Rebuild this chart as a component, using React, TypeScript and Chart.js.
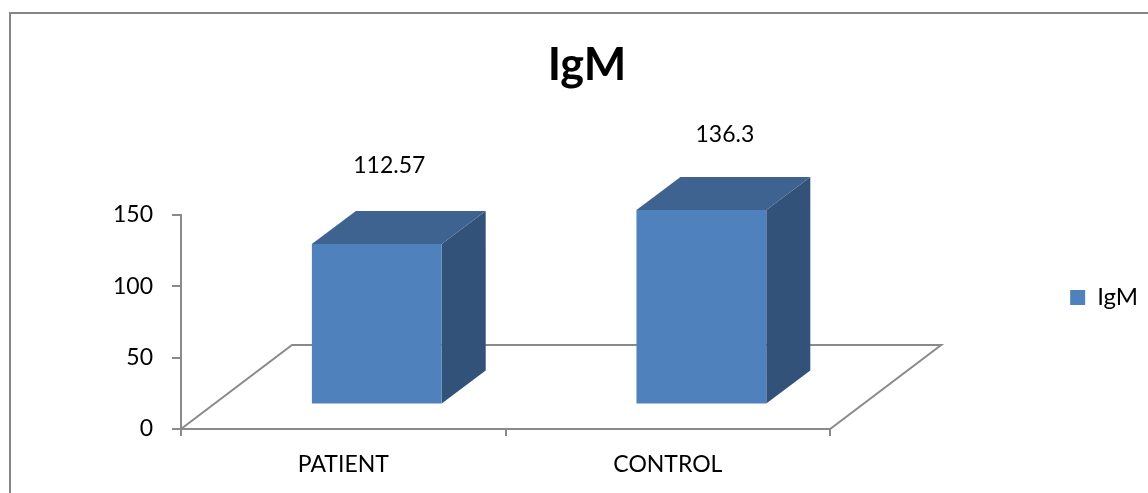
import React, { useEffect, useRef } from "react";
import { Chart, registerables } from "chart.js";

Chart.register(...registerables);

const categories = ["PATIENT", "CONTROL"];
const seriesName = "IgM";
const igmValues = [112.57, 136.3];
const yTicks = [0, 50, 100, 150];

const FONT = "Lato, 'Open Sans', sans-serif";
const AXIS_GREY = "#8a8a8a";
const FRONT = "#4f81bd";
const TOP = "#3e6390";
const SIDE = "#325279";

// Pseudo-3D geometry: bars sit partway back on a floor that recedes up and to the right.
const FRONT_SHIFT = { x: 33.5, y: -24.5 };
const BAR_DEPTH = { x: 44, y: -33 };
const FLOOR_DEPTH = { x: 111, y: -84 };
const LABEL_RISE = [103, 99.5];
const LABEL_SLIDE = [46, 57];
const LEGEND_DROP = 51;

const frame3d = {
  id: "frame3d",
  afterLayout(chart: any) {
    // Lower the legend to sit level with the middle of the bars.
    const legend = chart.legend;
    legend.top += LEGEND_DROP;
    legend.bottom += LEGEND_DROP;
  },
  beforeDraw(chart: any) {
    const { ctx } = chart;
    ctx.save();
    ctx.fillStyle = "#ffffff";
    ctx.fillRect(0, 0, chart.width, chart.height);
    ctx.strokeStyle = "#868686";
    ctx.lineWidth = 2;
    ctx.strokeRect(10, 13, chart.width + 40, chart.height + 40);
    ctx.restore();
  },
  beforeDatasetsDraw(chart: any) {
    const { ctx, chartArea: a } = chart;
    ctx.save();
    ctx.strokeStyle = AXIS_GREY;
    ctx.lineWidth = 2;
    ctx.beginPath();
    ctx.moveTo(a.left, a.bottom);
    ctx.lineTo(a.left + FLOOR_DEPTH.x, a.bottom + FLOOR_DEPTH.y);
    ctx.lineTo(a.right + FLOOR_DEPTH.x, a.bottom + FLOOR_DEPTH.y);
    ctx.lineTo(a.right, a.bottom);
    ctx.stroke();
    ctx.restore();
  },
  beforeDatasetDraw(chart: any) {
    const { ctx } = chart;
    ctx.save();
    ctx.translate(FRONT_SHIFT.x, FRONT_SHIFT.y);
    chart.getDatasetMeta(0).data.forEach((bar: any) => {
      const right = bar.x + bar.width / 2;
      const left = bar.x - bar.width / 2;
      ctx.fillStyle = SIDE;
      ctx.beginPath();
      ctx.moveTo(right, bar.y);
      ctx.lineTo(right + BAR_DEPTH.x, bar.y + BAR_DEPTH.y);
      ctx.lineTo(right + BAR_DEPTH.x, bar.base + BAR_DEPTH.y);
      ctx.lineTo(right, bar.base);
      ctx.closePath();
      ctx.fill();
      ctx.fillStyle = TOP;
      ctx.beginPath();
      ctx.moveTo(left, bar.y);
      ctx.lineTo(left + BAR_DEPTH.x, bar.y + BAR_DEPTH.y);
      ctx.lineTo(right + BAR_DEPTH.x, bar.y + BAR_DEPTH.y);
      ctx.lineTo(right, bar.y);
      ctx.closePath();
      ctx.fill();
    });
  },
  afterDatasetDraw(chart: any) {
    chart.ctx.restore();
  },
  afterDatasetsDraw(chart: any) {
    const { ctx } = chart;
    ctx.save();
    ctx.fillStyle = "#000000";
    ctx.font = `23px ${FONT}`;
    ctx.textAlign = "center";
    ctx.textBaseline = "middle";
    chart.getDatasetMeta(0).data.forEach((bar: any, i: number) => {
      ctx.fillText(String(igmValues[i]), bar.x + LABEL_SLIDE[i], bar.y - LABEL_RISE[i]);
    });
    ctx.restore();
  },
};

export default function App() {
  const ref = useRef<HTMLCanvasElement>(null);

  useEffect(() => {
    const chart = new Chart(ref.current as HTMLCanvasElement, {
      type: "bar",
      data: {
        labels: categories,
        datasets: [
          {
            label: seriesName,
            data: igmValues,
            backgroundColor: FRONT,
            barPercentage: 0.4,
            categoryPercentage: 1,
            clip: false,
          } as any,
        ],
      },
      options: {
        responsive: false,
        animation: false,
        layout: { padding: { left: 26, right: 0, top: 0, bottom: 0 } },
        plugins: {
          title: {
            display: true,
            text: seriesName,
            color: "#000000",
            font: { family: FONT, size: 45, weight: "bold" },
            padding: { top: 38, bottom: 123 },
          },
          legend: {
            position: "right",
            labels: {
              boxWidth: 15,
              boxHeight: 15,
              padding: 12,
              color: "#000000",
              font: { family: FONT, size: 24 },
            },
          },
          tooltip: { enabled: false },
        },
        scales: {
          x: {
            grid: {
              drawOnChartArea: false,
              color: AXIS_GREY,
              tickLength: 7,
              lineWidth: 2,
            },
            border: { color: AXIS_GREY, width: 2 },
            ticks: {
              color: "#000000",
              font: { family: FONT, size: 23 },
              padding: 15,
              maxRotation: 0,
            },
            afterFit(scale: any) {
              scale.height = 64;
            },
          },
          y: {
            min: 0,
            max: 150,
            afterBuildTicks(scale: any) {
              scale.ticks = yTicks.map((value) => ({ value }));
            },
            grid: {
              drawOnChartArea: false,
              color: AXIS_GREY,
              tickLength: 9,
              lineWidth: 2,
            },
            border: { color: AXIS_GREY, width: 2 },
            ticks: {
              color: "#000000",
              font: { family: FONT, size: 23 },
              padding: 19,
            },
            afterFit(scale: any) {
              scale.width = 155;
            },
          },
          // Empty axis that reserves the gap between the plot and the legend.
          gap: {
            position: "right",
            display: true,
            grid: { display: false },
            border: { display: false },
            ticks: { display: false },
            afterFit(scale: any) {
              scale.width = 228;
            },
          },
        },
      } as any,
      plugins: [frame3d],
    });
    return () => chart.destroy();
  }, []);

  return (
    <div style={{ position: "absolute", left: 0, top: 0, width: 1148, height: 493, overflow: "hidden" }}>
      <canvas ref={ref} width={1148} height={493} style={{ display: "block" }} />
    </div>
  );
}
